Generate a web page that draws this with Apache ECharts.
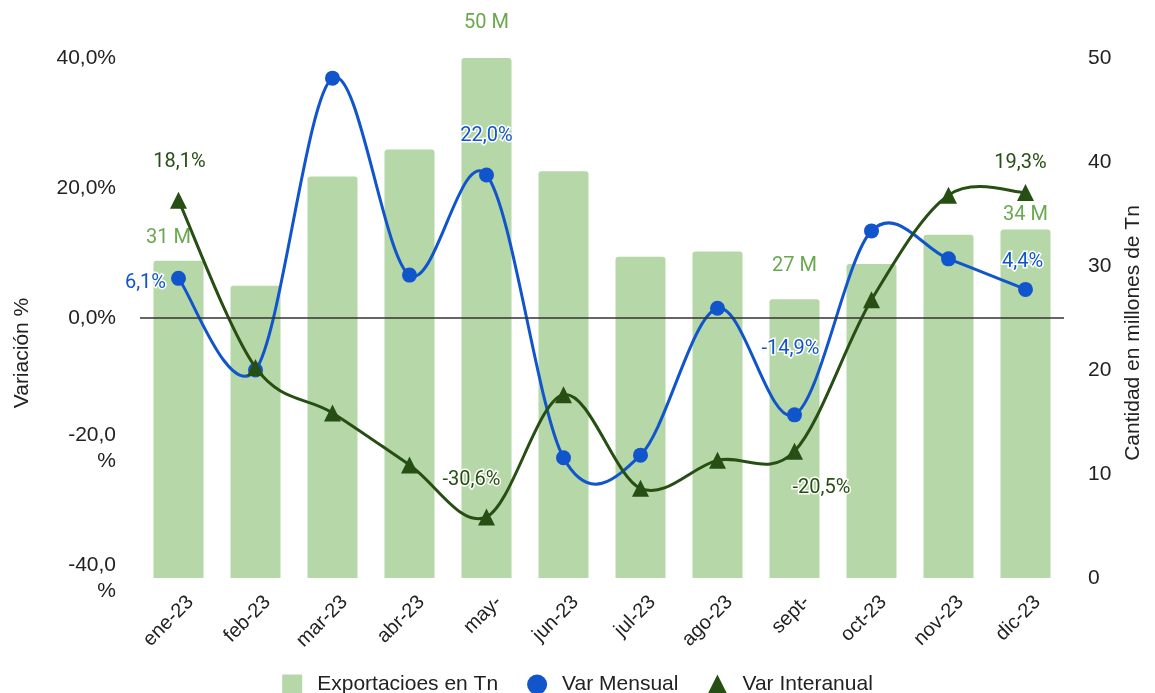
<!DOCTYPE html>
<html>
<head>
<meta charset="utf-8">
<script src="https://cdn.jsdelivr.net/npm/echarts@6/dist/echarts.min.js"></script>
<style>
  html, body { margin: 0; padding: 0; background: #fff; }
  #chart { width: 1155px; height: 693px; }
</style>
</head>
<body>
<div id="chart"></div>
<script>
// datos
const meses = ['ene-23', 'feb-23', 'mar-23', 'abr-23', 'may-', 'jun-23', 'jul-23', 'ago-23', 'sept-', 'oct-23', 'nov-23', 'dic-23']
const exportaciones = [30.5, 28.1, 38.6, 41.2, 50.0, 39.1, 30.9, 31.4, 26.8, 30.2, 33.0, 33.5]
const varMensual = [6.1, -8.0, 36.9, 6.6, 22.0, -21.5, -21.1, 1.5, -14.9, 13.4, 9.1, 4.4]
const varInteranual = [18.1, -7.6, -14.6, -22.6, -30.6, -11.8, -26.2, -21.9, -20.5, 2.8, 18.9, 19.3]

// puntos con etiqueta (indice -> posicion)
const etiquetasBarras = { 0: [-10, -8], 4: [0, -20], 8: [0, -18], 11: [0, 0] }
const etiquetasMensual = {
  0: { position: 'left', offset: [0, 5] },
  4: { position: 'top', offset: [0, -17] },
  8: { position: 'top', offset: [-4, -43] },
  11: { position: 'top', offset: [-3, -5] },
}
const etiquetasInteranual = {
  0: { position: 'top', offset: [1, -15] },
  4: { position: 'top', offset: [-15, -13] },
  8: { position: 'bottom', offset: [27, 13] },
  11: { position: 'top', offset: [-5, -6] },
}

const pct = (v) => v.toFixed(1).replace('.', ',') + '%'

const textoLabel = {
  fontFamily: 'Roboto',
  fontSize: 20,
  textBorderColor: '#fff',
  textBorderWidth: 3,
}

const barData = exportaciones.map((v, i) => {
  if (etiquetasBarras[i] === undefined) return v
  return {
    value: v,
    label: {
      show: true,
      position: 'top',
      offset: etiquetasBarras[i],
      color: '#6aa84f',
      formatter: (p) => Math.round(p.value) + ' M',
      ...textoLabel,
    },
  }
})

const lineData = (arr, etiquetas, color) =>
  arr.map((v, i) => {
    if (!etiquetas[i]) return v
    return {
      value: v,
      label: {
        show: true,
        position: etiquetas[i].position,
        offset: etiquetas[i].offset,
        color: color,
        formatter: (p) => pct(p.value),
        ...textoLabel,
      },
    }
  })

// curva tipo catmull-rom (como la de google sheets), tramo a tramo
const curva = (arr, color, z) => ({
  type: 'custom',
  yAxisIndex: 0,
  silent: true,
  z: z,
  data: arr.map((v, i) => [i, v]),
  renderItem: (params, api) => {
    const n = params.dataInsideLength
    const i = params.dataIndexInside
    if (i >= n - 1) return null
    const pt = (k) => {
      k = Math.max(0, Math.min(n - 1, k))
      return api.coord([api.value(0, k), api.value(1, k)])
    }
    const p0 = pt(i - 1), p1 = pt(i), p2 = pt(i + 1), p3 = pt(i + 2)
    return {
      type: 'bezierCurve',
      shape: {
        x1: p1[0], y1: p1[1],
        x2: p2[0], y2: p2[1],
        cpx1: p1[0] + (p2[0] - p0[0]) / 6,
        cpy1: p1[1] + (p2[1] - p0[1]) / 6,
        cpx2: p2[0] - (p3[0] - p1[0]) / 6,
        cpy2: p2[1] - (p3[1] - p1[1]) / 6,
      },
      style: { stroke: color, lineWidth: 3, fill: null },
    }
  },
})

const chart = echarts.init(document.getElementById('chart'))

const option = {
  animation: false,
  textStyle: { fontFamily: 'Liberation Sans, Arial, sans-serif' },
  grid: { left: 140, right: 91, top: 58, bottom: 115 },
  legend: {
    top: 669,
    left: 'center',
    itemWidth: 20,
    itemHeight: 20,
    itemGap: 29,
    textStyle: { fontSize: 21, color: '#222', fontFamily: 'Liberation Sans', padding: [0, 0, 0, 10] },
    data: [
      { name: 'Exportacioes en Tn', icon: 'rect' },
      { name: 'Var Mensual', icon: 'circle' },
      { name: 'Var Interanual', icon: 'triangle' },
    ],
  },
  xAxis: {
    type: 'category',
    data: meses,
    axisLine: { show: false },
    axisTick: { show: false },
    axisLabel: {
      rotate: 45,
      fontSize: 20,
      color: '#222',
      fontFamily: 'Liberation Sans',
      margin: 9,
      verticalAlign: 'top',
      lineHeight: 34,
      interval: 0,
    },
  },
  yAxis: [
    {
      type: 'value',
      min: -40,
      max: 40,
      interval: 20,
      name: 'Variación %',
      nameLocation: 'middle',
      nameGap: 107,
      nameRotate: 90,
      nameTextStyle: { fontSize: 21, color: '#222', fontFamily: 'Liberation Sans', padding: [0, 70, 0, 0] },
      axisLine: { show: false },
      axisTick: { show: false },
      splitLine: { show: false },
      axisLabel: {
        fontSize: 21,
        color: '#222',
        fontFamily: 'Liberation Sans',
        margin: 24,
        align: 'right',
        lineHeight: 26,
        formatter: (v) => (v < 0 ? v.toFixed(1).replace('.', ',') + '\n%' : pct(v)),
      },
    },
    {
      type: 'value',
      min: 0,
      max: 50,
      interval: 10,
      name: 'Cantidad en millones de Tn',
      nameLocation: 'middle',
      nameGap: 56,
      nameRotate: 90,
      nameTextStyle: { fontSize: 21, color: '#222', fontFamily: 'Liberation Sans', padding: [0, 30, 0, 0] },
      axisLine: { show: false },
      axisTick: { show: false },
      splitLine: { show: false },
      axisLabel: {
        fontSize: 21,
        color: '#222',
        fontFamily: 'Liberation Sans',
        margin: 24,
      },
    },
  ],
  series: [
    {
      name: 'Exportacioes en Tn',
      type: 'bar',
      yAxisIndex: 1,
      barWidth: 50,
      itemStyle: { color: '#b6d7a8', borderRadius: [3, 3, 0, 0] },
      data: barData,
      z: 1,
      markLine: {
        silent: true,
        symbol: 'none',
        label: { show: false },
        lineStyle: { color: '#333', width: 1.5, type: 'solid' },
        data: [{ yAxis: 25 }],
      },
    },
    curva(varMensual, '#1155cc', 2),
    {
      name: 'Var Mensual',
      type: 'line',
      yAxisIndex: 0,
      symbol: 'circle',
      symbolSize: 15,
      lineStyle: { width: 0 },
      itemStyle: { color: '#1155cc' },
      data: lineData(varMensual, etiquetasMensual, '#1155cc'),
      z: 3,
    },
    curva(varInteranual, '#274e13', 4),
    {
      name: 'Var Interanual',
      type: 'line',
      yAxisIndex: 0,
      symbol: 'triangle',
      symbolSize: 17,
      lineStyle: { width: 0 },
      itemStyle: { color: '#274e13' },
      data: lineData(varInteranual, etiquetasInteranual, '#274e13'),
      z: 5,
    },
  ],
}

chart.setOption(option)
</script>
</body>
</html>
